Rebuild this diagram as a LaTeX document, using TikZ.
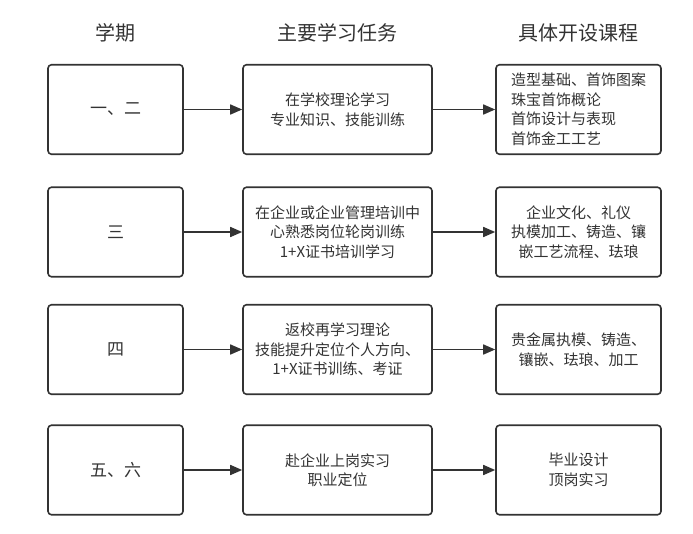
\documentclass[tikz,border=0pt]{standalone}
\usepackage{fontspec}
\setmainfont{Noto Sans CJK SC}
\usetikzlibrary{arrows.meta}
\definecolor{ink}{HTML}{333333}
\tikzset{
  box/.style={draw=ink, line width=1.6pt, rounded corners=3.5pt, fill=white, inner sep=0pt,
    minimum height=89.5pt, text=ink, align=center, font=\fontsize{15}{19.5}\selectfont},
  c1/.style={box, minimum width=135pt, font=\fontsize{17}{20}\selectfont},
  c2/.style={box, minimum width=189pt},
  c3/.style={box, minimum width=165pt},
  head/.style={text=ink, font=\fontsize{20}{24}\selectfont, inner sep=0pt},
  link/.style={draw=ink, line width=1.6pt, -{Triangle[length=12pt,width=10pt]}}
}
\begin{document}
\begin{tikzpicture}[x=1pt,y=-1pt]
\useasboundingbox (0,0) rectangle (693,533);
\node[head] (h1) at (115.5,33) {学期};
\node[head] (h2) at (337.5,33) {主要学习任务};
\node[head] (h3) at (578.5,33) {具体开设课程};

\node[c1] (a1) at (115.5,109.5) {一、二};
\node[c2] (b1) at (337.5,109.5) {在学校理论学习\\专业知识、技能训练};
\node[c3, align=left] (d1) at (578.5,109.5) {造型基础、首饰图案\\珠宝首饰概论\\首饰设计与表现\\首饰金工工艺};

\node[c1] (a2) at (115.5,232) {三};
\node[c2] (b2) at (337.5,232) {在企业或企业管理培训中\\心熟悉岗位轮岗训练\\1+X证书培训学习};
\node[c3] (d2) at (578.5,232) {企业文化、礼仪\\执模加工、铸造、镶\\嵌工艺流程、珐琅};

\node[c1] (a3) at (115.5,349.5) {四};
\node[c2] (b3) at (337.5,349.5) {返校再学习理论\\技能提升定位个人方向、\\1+X证书训练、考证};
\node[c3] (d3) at (578.5,349.5) {贵金属执模、铸造、\\镶嵌、珐琅、加工};

\node[c1] (a4) at (115.5,470) {五、六};
\node[c2] (b4) at (337.5,470) {赴企业上岗实习\\职业定位};
\node[c3] (d4) at (578.5,470) {毕业设计\\顶岗实习};

\foreach \i in {1,2,3,4} {
  \draw[link] (a\i) -- (b\i);
  \draw[link] (b\i) -- (d\i);
}
\end{tikzpicture}
\end{document}
